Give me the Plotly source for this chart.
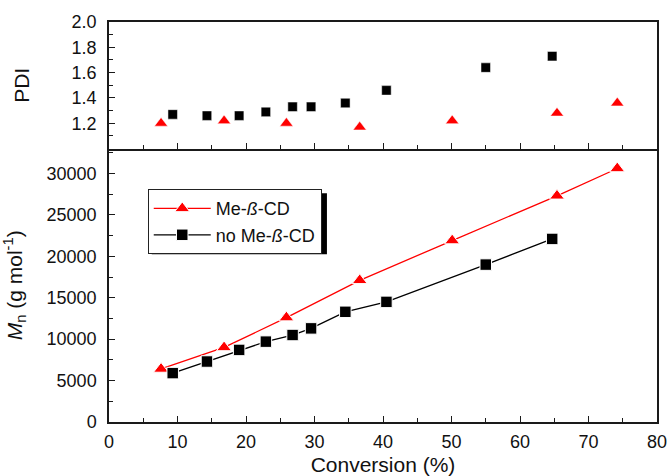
import plotly.graph_objects as go

# Conversion (%) for each sample
conv_me = [7.6, 16.8, 25.9, 36.6, 50.1, 65.4, 74.2]
conv_no = [9.3, 14.3, 19.0, 22.9, 26.8, 29.5, 34.5, 40.5, 55.0, 64.7]

# Polydispersity index
pdi_me = [1.20, 1.22, 1.20, 1.17, 1.22, 1.28, 1.36]
pdi_no = [1.27, 1.26, 1.26, 1.29, 1.33, 1.33, 1.36, 1.46, 1.64, 1.73]

# Number-average molar mass (g/mol)
mn_me = [6400, 9000, 12600, 17100, 21900, 27300, 30600]
mn_no = [5900, 7300, 8700, 9700, 10500, 11300, 13300, 14500, 19000, 22100]

name_me = "Me-<i>ß</i>-CD"
name_no = "no Me-<i>ß</i>-CD"

RED = "#ff0000"
BLACK = "#000000"
FONT = "Liberation Sans, Arial, sans-serif"

fig = go.Figure()

# Mn vs conversion (lower panel)
fig.add_trace(go.Scatter(
    x=conv_me, y=mn_me, name=name_me, mode="lines+markers",
    line=dict(color=RED, width=1.3),
    marker=dict(symbol="triangle-up", size=13, color=RED, line=dict(color="white", width=1)),
    xaxis="x", yaxis="y"))
fig.add_trace(go.Scatter(
    x=conv_no, y=mn_no, name=name_no, mode="lines+markers",
    line=dict(color=BLACK, width=1.3),
    marker=dict(symbol="square", size=11.5, color=BLACK, line=dict(color="white", width=1)),
    xaxis="x", yaxis="y"))

# PDI vs conversion (upper panel)
fig.add_trace(go.Scatter(
    x=conv_me, y=pdi_me, mode="markers", showlegend=False,
    marker=dict(symbol="triangle-up", size=11.5, color=RED, line=dict(color="white", width=0.5)),
    xaxis="x2", yaxis="y2"))
fig.add_trace(go.Scatter(
    x=conv_no, y=pdi_no, mode="markers", showlegend=False,
    marker=dict(symbol="square", size=9.5, color=BLACK, line=dict(color="white", width=0.5)),
    xaxis="x2", yaxis="y2"))

split = 0.6835

common_axis = dict(
    showline=True, linecolor="#1a1a1a", linewidth=1.5,
    showgrid=False, zeroline=False, automargin=False,
    ticks="inside", ticklen=6, tickwidth=1, tickcolor="#1a1a1a",
    tickfont=dict(family=FONT, size=18, color="#111"),
)

fig.update_layout(
    width=669, height=476,
    margin=dict(l=109, r=12, t=22, b=54),
    paper_bgcolor="white", plot_bgcolor="white",
    font=dict(family=FONT, color="#111"),
    xaxis=dict(
        **common_axis, mirror=False, range=[0, 80], dtick=10, tick0=0,
        minor=dict(ticks="inside", ticklen=4, dtick=5, tick0=0, tickcolor="#1a1a1a"),
        domain=[0, 1], anchor="y", ticklabelstandoff=3,
        title=dict(text="Conversion (%)", font=dict(family=FONT, size=21), standoff=15),
    ),
    yaxis=dict(
        **common_axis, mirror=True, range=[0, 33000], dtick=5000, tick0=0, tickformat="d",
        minor=dict(ticks="inside", ticklen=4, dtick=2500, tick0=0, tickcolor="#1a1a1a"),
        domain=[0, split], anchor="x", ticklabelstandoff=7,
        title=dict(text="<i>M</i><sub>n</sub> (g mol<sup>-1</sup>)",
                   font=dict(family=FONT, size=21), standoff=20),
    ),
    xaxis2=dict(
        **common_axis, mirror=True, range=[0, 80], dtick=10, tick0=0,
        minor=dict(ticks="inside", ticklen=4, dtick=5, tick0=0, tickcolor="#1a1a1a"),
        domain=[0, 1], anchor="y2", showticklabels=False, matches="x",
    ),
    yaxis2=dict(
        **common_axis, mirror=True, range=[1.0, 2.0],
        tickvals=[1.2, 1.4, 1.6, 1.8, 2.0], ticktext=["1.2", "1.4", "1.6", "1.8", "2.0"],
        minor=dict(ticks="inside", ticklen=4, dtick=0.1, tick0=1.0, tickcolor="#1a1a1a"),
        domain=[split, 1], anchor="x2", ticklabelstandoff=7,
        title=dict(text="PDI", font=dict(family=FONT, size=21), standoff=36),
    ),
    legend=dict(
        x=0.0707, y=0.582, xanchor="left", yanchor="top",
        bgcolor="white", bordercolor="#222", borderwidth=1,
        font=dict(family=FONT, size=18, color="#111"),
        tracegroupgap=0, itemwidth=57,
    ),
    showlegend=True,
)

# Drop shadow behind the legend box (the legend itself is drawn on top of shapes)
fig.add_shape(
    type="rect", xref="paper", yref="paper",
    x0=(152 - 109.3) / 547.4, x1=(327 - 109.3) / 547.4,
    y0=(421.7 - 254) / 400, y1=(421.7 - 193) / 400,
    fillcolor="black", line=dict(width=0), layer="above",
)

fig.write_html("out.html")
